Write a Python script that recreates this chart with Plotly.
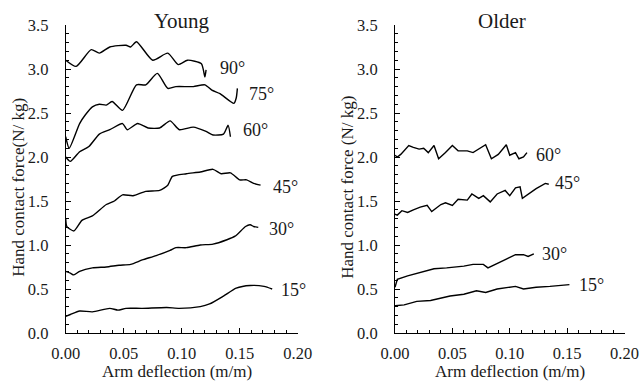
import plotly.graph_objects as go

# ---------------- data ----------------
young_90_x = [0.000, 0.009, 0.022, 0.029, 0.038, 0.052, 0.056, 0.061, 0.075, 0.088, 0.097, 0.105, 0.117, 0.120, 0.121]
young_90_y = [3.10, 3.03, 3.22, 3.18, 3.25, 3.27, 3.25, 3.31, 3.10, 3.18, 3.05, 3.10, 3.06, 2.91, 2.99]

young_75_x = [0.000, 0.003, 0.012, 0.017, 0.023, 0.029, 0.035, 0.040, 0.049, 0.061, 0.069, 0.079, 0.088, 0.095, 0.110, 0.120, 0.126, 0.133, 0.145, 0.147, 0.148]
young_75_y = [2.23, 2.10, 2.38, 2.48, 2.57, 2.60, 2.59, 2.63, 2.53, 2.82, 2.82, 2.95, 2.78, 2.80, 2.80, 2.82, 2.76, 2.72, 2.61, 2.67, 2.78]

young_60_x = [0.000, 0.004, 0.012, 0.020, 0.029, 0.038, 0.049, 0.053, 0.062, 0.071, 0.081, 0.090, 0.098, 0.110, 0.121, 0.127, 0.136, 0.140, 0.142]
young_60_y = [2.00, 1.95, 2.06, 2.12, 2.26, 2.31, 2.38, 2.31, 2.38, 2.33, 2.33, 2.41, 2.31, 2.34, 2.29, 2.25, 2.26, 2.36, 2.23]

young_45_x = [0.000, 0.001, 0.007, 0.014, 0.023, 0.035, 0.042, 0.049, 0.058, 0.069, 0.081, 0.088, 0.092, 0.104, 0.116, 0.127, 0.134, 0.142, 0.150, 0.156, 0.162, 0.168]
young_45_y = [1.30, 1.21, 1.16, 1.28, 1.33, 1.46, 1.50, 1.57, 1.56, 1.61, 1.62, 1.68, 1.78, 1.81, 1.83, 1.86, 1.81, 1.82, 1.74, 1.74, 1.70, 1.68]

young_30_x = [0.000, 0.004, 0.007, 0.012, 0.023, 0.035, 0.046, 0.056, 0.066, 0.078, 0.090, 0.095, 0.104, 0.116, 0.127, 0.139, 0.146, 0.155, 0.159, 0.162, 0.166]
young_30_y = [0.70, 0.68, 0.66, 0.70, 0.74, 0.75, 0.77, 0.78, 0.83, 0.88, 0.94, 0.97, 0.97, 1.00, 1.01, 1.06, 1.10, 1.21, 1.23, 1.21, 1.20]

young_15_x = [0.000, 0.004, 0.012, 0.023, 0.038, 0.045, 0.052, 0.066, 0.087, 0.098, 0.116, 0.124, 0.136, 0.147, 0.159, 0.171, 0.178]
young_15_y = [0.19, 0.21, 0.25, 0.24, 0.28, 0.26, 0.28, 0.28, 0.29, 0.28, 0.30, 0.33, 0.42, 0.51, 0.54, 0.53, 0.50]

older_60_x = [0.000, 0.002, 0.005, 0.012, 0.016, 0.021, 0.025, 0.029, 0.034, 0.038, 0.044, 0.050, 0.055, 0.063, 0.068, 0.073, 0.079, 0.084, 0.090, 0.097, 0.100, 0.105, 0.108, 0.112, 0.115]
older_60_y = [2.02, 2.00, 2.03, 2.13, 2.11, 2.09, 2.10, 2.05, 2.13, 1.98, 2.05, 2.13, 2.07, 2.07, 2.05, 2.09, 2.14, 1.98, 2.03, 2.14, 2.02, 2.05, 1.98, 2.00, 2.05]

older_45_x = [0.000, 0.002, 0.006, 0.011, 0.016, 0.022, 0.028, 0.032, 0.040, 0.044, 0.050, 0.055, 0.063, 0.067, 0.073, 0.077, 0.083, 0.089, 0.096, 0.100, 0.105, 0.109, 0.111, 0.118, 0.123, 0.131, 0.134]
older_45_y = [1.35, 1.34, 1.39, 1.37, 1.40, 1.43, 1.45, 1.38, 1.46, 1.48, 1.45, 1.52, 1.51, 1.58, 1.53, 1.56, 1.49, 1.58, 1.62, 1.56, 1.65, 1.66, 1.53, 1.60, 1.64, 1.70, 1.69]

older_30_x = [0.000, 0.002, 0.011, 0.022, 0.034, 0.045, 0.060, 0.068, 0.077, 0.081, 0.087, 0.097, 0.105, 0.112, 0.116, 0.121]
older_30_y = [0.52, 0.61, 0.65, 0.69, 0.73, 0.74, 0.76, 0.78, 0.78, 0.74, 0.78, 0.84, 0.89, 0.89, 0.87, 0.90]

older_15_x = [0.000, 0.008, 0.019, 0.031, 0.048, 0.060, 0.071, 0.079, 0.089, 0.100, 0.105, 0.112, 0.123, 0.135, 0.144, 0.152]
older_15_y = [0.31, 0.32, 0.36, 0.37, 0.42, 0.44, 0.48, 0.46, 0.50, 0.52, 0.53, 0.50, 0.52, 0.53, 0.54, 0.55]

panel_titles = ["Young", "Older"]
angle_labels = ["90°", "75°", "60°", "45°", "30°", "15°"]
young_label_pos = [(0.131, 3.01), (0.156, 2.72), (0.151, 2.31), (0.1766, 1.66), (0.1737, 1.18), (0.184, 0.49)]
older_labels = ["60°", "45°", "30°", "15°"]
older_label_pos = [(0.121, 2.02), (0.138, 1.70), (0.126, 0.90), (0.159, 0.55)]
x_title = "Arm deflection (m/m)"
y_titles = ["Hand contact force(N/ kg)", "Hand contact force (N/ kg)"]

# ---------------- figure ----------------
W, H = 641, 381
PT, PB = 25, 333.3          # plot area top / bottom (px)
PH = PB - PT
FONT = "Liberation Serif"
TXT = "#1a1a1a"
fig = go.Figure()

young = [(young_90_x, young_90_y), (young_75_x, young_75_y), (young_60_x, young_60_y),
         (young_45_x, young_45_y), (young_30_x, young_30_y), (young_15_x, young_15_y)]
older = [(older_60_x, older_60_y), (older_45_x, older_45_y), (older_30_x, older_30_y),
         (older_15_x, older_15_y)]

for xs, ys in young:
    fig.add_trace(go.Scatter(x=xs, y=ys, mode="lines", line=dict(color="black", width=1.4, shape="spline", smoothing=0.6),
                             xaxis="x", yaxis="y", showlegend=False, hoverinfo="skip"))
for xs, ys in older:
    fig.add_trace(go.Scatter(x=xs, y=ys, mode="lines", line=dict(color="black", width=1.4),
                             xaxis="x2", yaxis="y2", showlegend=False, hoverinfo="skip"))

ax_common = dict(showline=True, linecolor="black", linewidth=1, ticks="inside", ticklen=5,
                 tickcolor="black", showgrid=False, zeroline=False, automargin=False,
                 tickfont=dict(family=FONT, size=16.5, color=TXT), mirror=False)

fig.update_layout(
    width=W, height=H,
    margin=dict(l=0, r=0, t=PT, b=H - PB),
    paper_bgcolor="white", plot_bgcolor="white",
    xaxis=dict(domain=[65.7 / W, 297.7 / W], range=[0, 0.2], dtick=0.05, tickformat=".2f",
               minor=dict(dtick=0.01, ticks="inside", ticklen=3, tickcolor="black"),
               anchor="y", ticklabelstandoff=5, **ax_common),
    yaxis=dict(domain=[0, 1], range=[0, 3.5], dtick=0.5, tickformat=".1f",
               minor=dict(dtick=0.1, ticks="inside", ticklen=3, tickcolor="black"),
               anchor="x", ticklabelstandoff=13, **ax_common),
    xaxis2=dict(domain=[395 / W, 624.5 / W], range=[0, 0.2], dtick=0.05, tickformat=".2f",
                minor=dict(dtick=0.01, ticks="inside", ticklen=3, tickcolor="black"),
                anchor="y2", ticklabelstandoff=5, **ax_common),
    yaxis2=dict(domain=[0, 1], range=[0, 3.5], dtick=0.5, tickformat=".1f",
                minor=dict(dtick=0.1, ticks="inside", ticklen=3, tickcolor="black"),
                anchor="x2", ticklabelstandoff=13, **ax_common),
)

ann = []
for lab, (x, y) in zip(angle_labels, young_label_pos):
    ann.append(dict(x=x, y=y, xref="x", yref="y", text=lab, showarrow=False, xanchor="left",
                    yanchor="middle", font=dict(family=FONT, size=18, color=TXT)))
for lab, (x, y) in zip(older_labels, older_label_pos):
    ann.append(dict(x=x, y=y, xref="x2", yref="y2", text=lab, showarrow=False, xanchor="left",
                    yanchor="middle", font=dict(family=FONT, size=18, color=TXT)))
# panel titles
for cx, t in zip((182 / W, 502 / W), panel_titles):
    ann.append(dict(x=cx, y=(PB - 21) / PH, xref="paper", yref="paper", text=t, showarrow=False,
                    xanchor="center", yanchor="middle", font=dict(family=FONT, size=21, color=TXT)))
# axis titles
for cx in (177 / W, 510 / W):
    ann.append(dict(x=cx, y=(PB - 371.5) / PH, xref="paper", yref="paper", text=x_title, showarrow=False,
                    xanchor="center", yanchor="middle", font=dict(family=FONT, size=17, color=TXT)))
for cx, t in zip((19 / W, 348 / W), y_titles):
    ann.append(dict(x=cx, y=(PB - 188) / PH, xref="paper", yref="paper", text=t, showarrow=False, textangle=-90,
                    xanchor="center", yanchor="middle", font=dict(family=FONT, size=17, color=TXT)))
fig.update_layout(annotations=ann)

# remove the browser's default 8px body margin so the figure sits at the page origin
fig.write_html("out.html", config={"displayModeBar": False},
               post_script="document.body.style.margin='0px';document.body.style.overflow='hidden';")
